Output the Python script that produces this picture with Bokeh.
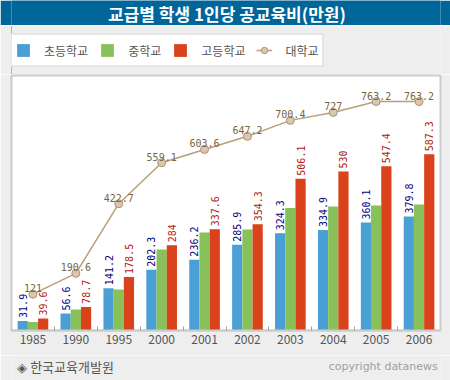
from bokeh.plotting import figure
from bokeh.layouts import column
from bokeh.models import (Range1d, FixedTicker, Legend, LegendItem, Label,
                          ColumnDataSource)
from bokeh.core.properties import value
from bokeh.embed import file_html
from bokeh.resources import INLINE

# ---- data ----
years = ["1985", "1990", "1995", "2000", "2001", "2002", "2003", "2004", "2005", "2006"]
elementary = [31.9, 56.6, 141.2, 202.3, 236.2, 285.9, 324.3, 334.9, 360.1, 379.8]
middle = [28, 70, 137, 270, 327, 337, 408, 413, 417, 420]
high = [39.6, 78.7, 178.5, 284.0, 337.6, 354.3, 506.1, 530.0, 547.4, 587.3]
university = [121.0, 190.6, 422.7, 559.1, 603.6, 647.2, 700.4, 727.0, 763.2, 763.2]

series_names = ["초등학교", "중학교", "고등학교", "대학교"]
title_text = "교급별 학생 1인당 공교육비(만원)"
source_text = "◈ 한국교육개발원"
copyright_text = "copyright datanews"

BLUE, GREEN, RED = "#4aa0d4", "#88c05a", "#d9421b"
LINE_C, MK_FILL, MK_LINE = "#b89e78", "#d8c8b0", "#b09070"
BG = "#eeeeee"
KFONT = "Noto Sans CJK KR"
MONO = "DejaVu Sans Mono"

W = 450
n = len(years)
centers = [i + 0.5 for i in range(n)]
bw = 0.238

def fmt(v):
    return "%g" % v

src = ColumnDataSource(dict(
    xb=[c - bw for c in centers], xg=centers, xr=[c + bw for c in centers],
    e=elementary, m=middle, h=high, u=university,
    el=[fmt(v) for v in elementary], hl=[fmt(v) for v in high], ul=[fmt(v) for v in university],
))

def plain(h, bg, yr):
    f = figure(width=W, height=h, output_backend="svg", toolbar_location=None,
               x_range=Range1d(0, W), y_range=Range1d(*yr),
               x_axis_location=None, y_axis_location=None, min_border=0)
    f.xgrid.visible = False
    f.ygrid.visible = False
    f.outline_line_color = None
    f.background_fill_color = bg
    f.border_fill_color = bg
    return f

# ---- title bar ----
TH = 25
ft = plain(TH, "#006699", (0, TH))
ft.add_layout(Label(x=W / 2 + 1, y=TH / 2, text=title_text, text_align="center",
                    text_baseline="middle", text_font=KFONT, text_font_size="17px",
                    text_font_style="bold", text_color="white"))

# ---- legend strip (legend glyphs only; their points lie outside the view) ----
LH = 49
fl = plain(LH, BG, (0, 1))
lb = fl.vbar(x=[-50], top=[1], width=1, fill_color=BLUE, line_color=None)
lg = fl.vbar(x=[-50], top=[1], width=1, fill_color=GREEN, line_color=None)
lr = fl.vbar(x=[-50], top=[1], width=1, fill_color=RED, line_color=None)
ll = fl.line(x=[-50, -40], y=[0, 0], line_color=LINE_C, line_width=1.5)
lc = fl.scatter(x=[-50], y=[0], marker="circle", fill_color=MK_FILL, line_color=MK_LINE)
legend = Legend(items=[
    LegendItem(label=series_names[0], renderers=[lb]),
    LegendItem(label=series_names[1], renderers=[lg]),
    LegendItem(label=series_names[2], renderers=[lr]),
    LegendItem(label=series_names[3], renderers=[ll, lc]),
], orientation="horizontal", location=(-1, 7), margin=0, padding=3,
    spacing=11, glyph_width=16, glyph_height=16, label_height=24, label_standoff=13,
    label_text_font=KFONT, label_text_font_size="12px", label_text_color="#555555",
    border_line_color="#cccccc", border_line_width=2, background_fill_color="white",
    background_fill_alpha=1)
fl.add_layout(legend, "center")

# ---- main chart ----
MH = 281
p = figure(width=W, height=MH, output_backend="svg", toolbar_location=None,
           x_range=Range1d(0, n), y_range=Range1d(0, 850),
           y_axis_location=None, min_border_left=11, min_border_right=10,
           min_border_top=1, min_border_bottom=25)
p.xgrid.visible = False
p.ygrid.visible = False
p.background_fill_color = "white"
p.border_fill_color = BG
p.outline_line_color = "#cccccc"
p.outline_line_width = 2

p.vbar(x="xb", top="e", width=bw, bottom=0, source=src, fill_color=BLUE, line_color=None)
p.vbar(x="xg", top="m", width=bw, bottom=0, source=src, fill_color=GREEN, line_color=None)
p.vbar(x="xr", top="h", width=bw, bottom=0, source=src, fill_color=RED, line_color=None)

# rotated bar labels
for xcol, ycol, tcol, col in (("xb", "e", "el", "#000080"), ("xr", "h", "hl", "#b02010")):
    p.text(x=xcol, y=ycol, text=tcol, source=src, angle=90, angle_units="deg",
           text_align="left", text_baseline="middle", y_offset=-3, text_font=value(MONO),
           text_font_size="10px", text_color=col)

p.line(x="xg", y="u", source=src, line_color=LINE_C, line_width=1.5)
p.scatter(x="xg", y="u", source=src, size=8, marker="circle",
          fill_color=MK_FILL, line_color=MK_LINE, line_width=1)
p.text(x="xg", y="u", text="ul", source=src, text_align="center",
       text_baseline="alphabetic", y_offset=-6, text_font=value(MONO),
       text_font_size="10px", text_color="#7a6440")

ax = p.xaxis[0]
ax.ticker = FixedTicker(ticks=centers, minor_ticks=[i for i in range(1, n)])
ax.major_label_overrides = {c: y for c, y in zip(centers, years)}
ax.major_tick_line_color = None
ax.major_tick_in = 0
ax.major_tick_out = 0
ax.minor_tick_line_color = "#a0a0a0"
ax.minor_tick_in = 4
ax.minor_tick_out = 0
ax.axis_line_color = "#cccccc"
ax.axis_line_width = 2
ax.major_label_standoff = 4
ax.major_label_text_font = KFONT
ax.major_label_text_font_size = "12px"
ax.major_label_text_color = "#555555"

# ---- footer ----
FH = 380 - TH - LH - MH
ff = plain(FH, BG, (0, FH))
ff.add_layout(Label(x=6, y=FH - 11, text=source_text, text_align="left",
                    text_baseline="middle", text_font=KFONT, text_font_size="13px",
                    text_color="#555555"))
ff.add_layout(Label(x=447, y=FH - 11, text=copyright_text, text_align="right",
                    text_baseline="middle", text_font="DejaVu Sans", text_font_size="11px",
                    text_color="#a0a0a0"))

layout = column(ft, fl, p, ff, spacing=0)
open("out.html", "w").write(file_html(layout, INLINE))
